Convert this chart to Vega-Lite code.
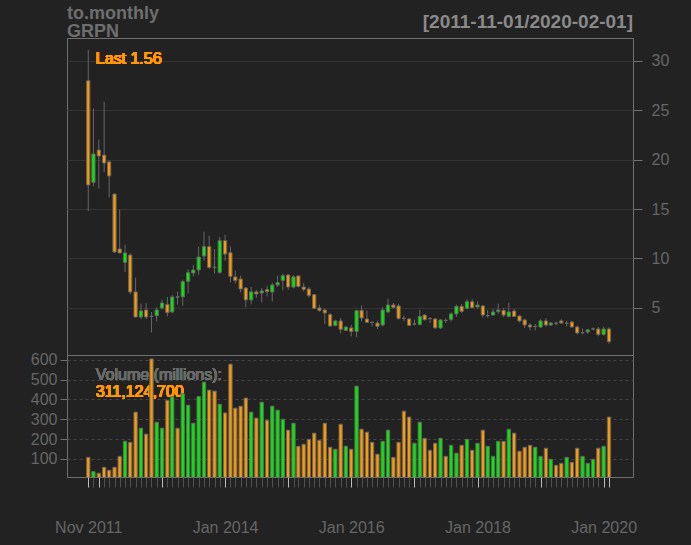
{
  "$schema": "https://vega.github.io/schema/vega-lite/v6.json",
  "autosize": "none",
  "padding": {"left": 67, "top": 38, "right": 624, "bottom": 507},
  "background": "#222222",
  "config": {
    "font": "Liberation Sans",
    "view": {"stroke": "#707070", "strokeWidth": 1},
    "axis": {"labelOverlap": false}
  },
  "title": {
    "text": ["to.monthly", "GRPN"],
    "anchor": "start",
    "frame": "group",
    "fontSize": 18,
    "fontWeight": "bold",
    "color": "#6e6e6e",
    "lineHeight": 18,
    "baseline": "alphabetic",
    "offset": 0,
    "dy": 42
  },
  "data": {
    "values": [
      {"date": "2011-11-01", "open": 28.0, "high": 31.14, "low": 14.8, "close": 17.44, "volume": 108},
      {"date": "2011-12-01", "open": 17.7, "high": 25.2, "low": 17.3, "close": 20.58, "volume": 36},
      {"date": "2012-01-01", "open": 20.98, "high": 22.03, "low": 17.1, "close": 20.37, "volume": 28},
      {"date": "2012-02-01", "open": 20.47, "high": 25.88, "low": 18.72, "close": 19.66, "volume": 58},
      {"date": "2012-03-01", "open": 19.77, "high": 19.93, "low": 16.18, "close": 18.35, "volume": 43},
      {"date": "2012-04-01", "open": 16.52, "high": 16.6, "low": 10.55, "close": 10.65, "volume": 58},
      {"date": "2012-05-01", "open": 10.95, "high": 14.93, "low": 10.5, "close": 10.55, "volume": 113},
      {"date": "2012-06-01", "open": 9.6, "high": 11.39, "low": 8.62, "close": 10.55, "volume": 189},
      {"date": "2012-07-01", "open": 10.34, "high": 10.5, "low": 6.39, "close": 6.6, "volume": 184},
      {"date": "2012-08-01", "open": 6.6, "high": 8.04, "low": 4.0, "close": 4.06, "volume": 336},
      {"date": "2012-09-01", "open": 4.06, "high": 5.41, "low": 3.86, "close": 4.67, "volume": 255},
      {"date": "2012-10-01", "open": 4.77, "high": 5.45, "low": 3.86, "close": 4.06, "volume": 225},
      {"date": "2012-11-01", "open": 4.14, "high": 4.57, "low": 2.5, "close": 4.1, "volume": 604},
      {"date": "2012-12-01", "open": 4.19, "high": 5.04, "low": 3.62, "close": 4.77, "volume": 285},
      {"date": "2013-01-01", "open": 4.97, "high": 5.82, "low": 4.8, "close": 5.48, "volume": 255},
      {"date": "2013-02-01", "open": 5.34, "high": 6.09, "low": 4.12, "close": 4.5, "volume": 396},
      {"date": "2013-03-01", "open": 4.57, "high": 6.32, "low": 4.47, "close": 6.09, "volume": 413},
      {"date": "2013-04-01", "open": 6.1, "high": 6.63, "low": 5.31, "close": 6.08, "volume": 255},
      {"date": "2013-05-01", "open": 6.1, "high": 7.84, "low": 5.21, "close": 7.64, "volume": 428},
      {"date": "2013-06-01", "open": 7.67, "high": 8.89, "low": 6.42, "close": 8.55, "volume": 371},
      {"date": "2013-07-01", "open": 8.52, "high": 9.33, "low": 8.18, "close": 8.82, "volume": 280},
      {"date": "2013-08-01", "open": 8.82, "high": 11.19, "low": 8.35, "close": 10.14, "volume": 415},
      {"date": "2013-09-01", "open": 10.24, "high": 12.7, "low": 9.77, "close": 11.19, "volume": 487},
      {"date": "2013-10-01", "open": 11.19, "high": 12.3, "low": 8.92, "close": 9.09, "volume": 447},
      {"date": "2013-11-01", "open": 9.1, "high": 10.95, "low": 8.45, "close": 9.08, "volume": 442},
      {"date": "2013-12-01", "open": 8.58, "high": 12.19, "low": 8.45, "close": 11.79, "volume": 376},
      {"date": "2014-01-01", "open": 11.79, "high": 12.4, "low": 9.77, "close": 10.44, "volume": 332},
      {"date": "2014-02-01", "open": 10.58, "high": 11.19, "low": 7.57, "close": 8.18, "volume": 578},
      {"date": "2014-03-01", "open": 8.12, "high": 8.75, "low": 7.44, "close": 7.77, "volume": 356},
      {"date": "2014-04-01", "open": 7.91, "high": 8.25, "low": 6.56, "close": 6.9, "volume": 366},
      {"date": "2014-05-01", "open": 7.0, "high": 7.1, "low": 5.04, "close": 5.79, "volume": 407},
      {"date": "2014-06-01", "open": 5.79, "high": 7.1, "low": 5.34, "close": 6.6, "volume": 336},
      {"date": "2014-07-01", "open": 6.6, "high": 6.8, "low": 6.0, "close": 6.39, "volume": 306},
      {"date": "2014-08-01", "open": 6.49, "high": 7.0, "low": 5.54, "close": 6.7, "volume": 386},
      {"date": "2014-09-01", "open": 6.83, "high": 7.23, "low": 6.15, "close": 6.63, "volume": 295},
      {"date": "2014-10-01", "open": 6.6, "high": 7.54, "low": 5.64, "close": 7.3, "volume": 366},
      {"date": "2014-11-01", "open": 7.3, "high": 8.25, "low": 7.1, "close": 7.54, "volume": 346},
      {"date": "2014-12-01", "open": 7.77, "high": 8.45, "low": 6.76, "close": 8.25, "volume": 300},
      {"date": "2015-01-01", "open": 8.32, "high": 8.39, "low": 6.8, "close": 7.1, "volume": 245},
      {"date": "2015-02-01", "open": 7.1, "high": 8.3, "low": 6.95, "close": 8.12, "volume": 280},
      {"date": "2015-03-01", "open": 8.22, "high": 8.24, "low": 7.05, "close": 7.16, "volume": 164},
      {"date": "2015-04-01", "open": 7.1, "high": 7.51, "low": 6.66, "close": 6.86, "volume": 174},
      {"date": "2015-05-01", "open": 6.9, "high": 7.1, "low": 6.06, "close": 6.25, "volume": 199},
      {"date": "2015-06-01", "open": 6.32, "high": 6.4, "low": 4.85, "close": 4.94, "volume": 230},
      {"date": "2015-07-01", "open": 4.97, "high": 5.3, "low": 4.6, "close": 4.73, "volume": 194},
      {"date": "2015-08-01", "open": 4.77, "high": 4.9, "low": 3.35, "close": 4.47, "volume": 280},
      {"date": "2015-09-01", "open": 4.3, "high": 4.45, "low": 3.05, "close": 3.15, "volume": 159},
      {"date": "2015-10-01", "open": 3.21, "high": 3.8, "low": 3.1, "close": 3.66, "volume": 149},
      {"date": "2015-11-01", "open": 3.66, "high": 3.96, "low": 2.4, "close": 2.81, "volume": 275},
      {"date": "2015-12-01", "open": 2.71, "high": 3.1, "low": 2.68, "close": 3.05, "volume": 164},
      {"date": "2016-01-01", "open": 2.95, "high": 3.28, "low": 2.1, "close": 2.6, "volume": 149},
      {"date": "2016-02-01", "open": 2.6, "high": 4.8, "low": 2.04, "close": 4.7, "volume": 467},
      {"date": "2016-03-01", "open": 4.73, "high": 5.24, "low": 3.62, "close": 3.96, "volume": 250},
      {"date": "2016-04-01", "open": 3.86, "high": 4.7, "low": 3.45, "close": 3.52, "volume": 235},
      {"date": "2016-05-01", "open": 3.53, "high": 3.6, "low": 3.1, "close": 3.51, "volume": 184},
      {"date": "2016-06-01", "open": 3.45, "high": 3.69, "low": 2.85, "close": 3.11, "volume": 124},
      {"date": "2016-07-01", "open": 3.25, "high": 5.04, "low": 3.11, "close": 4.77, "volume": 189},
      {"date": "2016-08-01", "open": 4.57, "high": 5.92, "low": 4.47, "close": 5.28, "volume": 245},
      {"date": "2016-09-01", "open": 5.28, "high": 5.48, "low": 4.9, "close": 5.04, "volume": 108},
      {"date": "2016-10-01", "open": 5.18, "high": 5.41, "low": 3.79, "close": 3.92, "volume": 184},
      {"date": "2016-11-01", "open": 3.93, "high": 4.2, "low": 3.6, "close": 3.92, "volume": 341},
      {"date": "2016-12-01", "open": 3.86, "high": 3.95, "low": 3.15, "close": 3.21, "volume": 311},
      {"date": "2017-01-01", "open": 3.34, "high": 3.8, "low": 3.2, "close": 3.36, "volume": 179},
      {"date": "2017-02-01", "open": 3.31, "high": 4.8, "low": 3.21, "close": 4.12, "volume": 285},
      {"date": "2017-03-01", "open": 4.26, "high": 4.35, "low": 3.7, "close": 3.79, "volume": 204},
      {"date": "2017-04-01", "open": 3.9, "high": 4.05, "low": 3.45, "close": 3.88, "volume": 144},
      {"date": "2017-05-01", "open": 3.86, "high": 3.95, "low": 2.9, "close": 2.95, "volume": 179},
      {"date": "2017-06-01", "open": 2.95, "high": 3.85, "low": 2.85, "close": 3.76, "volume": 204},
      {"date": "2017-07-01", "open": 3.73, "high": 3.92, "low": 3.45, "close": 3.71, "volume": 113},
      {"date": "2017-08-01", "open": 3.82, "high": 4.53, "low": 3.59, "close": 4.37, "volume": 169},
      {"date": "2017-09-01", "open": 4.37, "high": 5.31, "low": 4.07, "close": 5.14, "volume": 129},
      {"date": "2017-10-01", "open": 5.14, "high": 5.38, "low": 4.47, "close": 4.63, "volume": 169},
      {"date": "2017-11-01", "open": 4.94, "high": 5.88, "low": 4.83, "close": 5.61, "volume": 199},
      {"date": "2017-12-01", "open": 5.61, "high": 5.85, "low": 4.95, "close": 5.0, "volume": 144},
      {"date": "2018-01-01", "open": 5.08, "high": 5.65, "low": 4.94, "close": 5.28, "volume": 179},
      {"date": "2018-02-01", "open": 5.18, "high": 5.25, "low": 4.0, "close": 4.26, "volume": 245},
      {"date": "2018-03-01", "open": 4.18, "high": 4.78, "low": 4.0, "close": 4.2, "volume": 164},
      {"date": "2018-04-01", "open": 4.26, "high": 4.87, "low": 4.19, "close": 4.57, "volume": 113},
      {"date": "2018-05-01", "open": 4.6, "high": 5.41, "low": 4.4, "close": 4.77, "volume": 189},
      {"date": "2018-06-01", "open": 4.73, "high": 4.97, "low": 4.06, "close": 4.26, "volume": 189},
      {"date": "2018-07-01", "open": 4.12, "high": 5.51, "low": 4.02, "close": 4.57, "volume": 250},
      {"date": "2018-08-01", "open": 4.67, "high": 4.87, "low": 4.06, "close": 4.12, "volume": 230},
      {"date": "2018-09-01", "open": 4.16, "high": 4.23, "low": 3.52, "close": 3.66, "volume": 139},
      {"date": "2018-10-01", "open": 3.76, "high": 3.9, "low": 2.95, "close": 3.25, "volume": 159},
      {"date": "2018-11-01", "open": 3.25, "high": 3.42, "low": 2.71, "close": 3.05, "volume": 169},
      {"date": "2018-12-01", "open": 3.1, "high": 3.35, "low": 2.71, "close": 3.12, "volume": 159},
      {"date": "2019-01-01", "open": 3.05, "high": 3.82, "low": 2.95, "close": 3.66, "volume": 113},
      {"date": "2019-02-01", "open": 3.66, "high": 3.96, "low": 3.08, "close": 3.25, "volume": 154},
      {"date": "2019-03-01", "open": 3.25, "high": 3.55, "low": 3.15, "close": 3.45, "volume": 98},
      {"date": "2019-04-01", "open": 3.43, "high": 3.62, "low": 3.2, "close": 3.41, "volume": 68},
      {"date": "2019-05-01", "open": 3.66, "high": 3.82, "low": 3.35, "close": 3.45, "volume": 78},
      {"date": "2019-06-01", "open": 3.41, "high": 3.69, "low": 3.1, "close": 3.43, "volume": 108},
      {"date": "2019-07-01", "open": 3.56, "high": 3.66, "low": 2.95, "close": 3.05, "volume": 83},
      {"date": "2019-08-01", "open": 3.05, "high": 3.2, "low": 2.3, "close": 2.44, "volume": 154},
      {"date": "2019-09-01", "open": 2.46, "high": 2.9, "low": 2.3, "close": 2.48, "volume": 113},
      {"date": "2019-10-01", "open": 2.54, "high": 2.85, "low": 2.37, "close": 2.75, "volume": 78},
      {"date": "2019-11-01", "open": 2.84, "high": 3.0, "low": 2.7, "close": 2.86, "volume": 98},
      {"date": "2019-12-01", "open": 2.85, "high": 3.05, "low": 2.1, "close": 2.3, "volume": 154},
      {"date": "2020-01-01", "open": 2.3, "high": 3.08, "low": 2.17, "close": 2.85, "volume": 164},
      {"date": "2020-02-01", "open": 2.85, "high": 3.01, "low": 1.36, "close": 1.56, "volume": 311.1247}
    ],
    "format": {"parse": {"date": "utc:'%Y-%m-%d'"}}
  },
  "spacing": 0,
  "bounds": "flush",
  "vconcat": [
    {
      "width": 566,
      "height": 317,
      "title": {
        "text": "[2011-11-01/2020-02-01]",
        "anchor": "end",
        "frame": "group",
        "fontSize": 19,
        "fontWeight": "bold",
        "color": "#8a8a8a",
        "baseline": "alphabetic",
        "offset": 11,
        "dy": 20
      },
      "encoding": {
        "x": {
          "field": "date",
          "type": "temporal",
          "scale": {"type": "utc", "padding": 0, "domain": [{"year": 2011, "month": 7, "date": 1, "utc": true}, {"year": 2020, "month": 6, "date": 19, "utc": true}]},
          "axis": null
        }
      },
      "layer": [
        {
          "mark": {"type": "text", "align": "left", "baseline": "alphabetic", "dx": 7.5, "fontSize": 16, "color": "#ff9900"},
          "encoding": {
            "x": {"datum": {"year": 2011, "month": 11, "date": 1, "utc": true}, "type": "temporal"},
            "y": {"datum": 29.68, "type": "quantitative"},
            "text": {"value": "Last 1.56"}
          }
        },
        {
          "mark": {"type": "rule", "color": "#666666", "strokeWidth": 1},
          "encoding": {
            "y": {
              "field": "low",
              "type": "quantitative",
              "scale": {"domain": [0.21, 32.33], "zero": false, "nice": false},
              "axis": {
                "orient": "right",
                "values": [5, 10, 15, 20, 25, 30],
                "tickCount": 20,
                "title": null,
                "grid": true,
                "gridColor": "#333333",
                "domain": false,
                "tickColor": "#707070",
                "tickSize": 9,
                "labelPadding": 9,
                "labelColor": "#666666",
                "labelFontSize": 16,
                "labelFont": "Liberation Sans"
              }
            },
            "y2": {"field": "high"}
          }
        },
        {
          "mark": {"type": "bar", "size": 3.2, "stroke": "#666666", "strokeWidth": 1},
          "encoding": {
            "y": {"field": "open", "type": "quantitative"},
            "y2": {"field": "close"},
            "fill": {"condition": {"test": "datum.close > datum.open", "value": "#00ee00"}, "value": "#ff9900"}
          }
        }
      ]
    },
    {
      "width": 566,
      "height": 122,
      "resolve": {"scale": {"x": "shared"}, "axis": {"x": "independent"}},
      "layer": [
        {
          "mark": {"type": "text", "align": "left", "baseline": "alphabetic", "dx": 7.5, "fontSize": 16, "color": "#6a6a6a"},
          "encoding": {
            "x": {
              "datum": {"year": 2011, "month": 11, "date": 1, "utc": true},
              "type": "temporal",
              "scale": {"type": "utc", "padding": 0, "domain": [{"year": 2011, "month": 7, "date": 1, "utc": true}, {"year": 2020, "month": 6, "date": 19, "utc": true}]},
              "axis": {
                "orient": "bottom",
                "tickCount": 200,
                "values": [
                  {"year": 2011, "month": 11, "date": 1, "utc": true},
                  {"year": 2011, "month": 12, "date": 1, "utc": true},
                  {"year": 2012, "month": 1, "date": 1, "utc": true}, {"year": 2012, "month": 2, "date": 1, "utc": true}, {"year": 2012, "month": 3, "date": 1, "utc": true}, {"year": 2012, "month": 4, "date": 1, "utc": true}, {"year": 2012, "month": 5, "date": 1, "utc": true}, {"year": 2012, "month": 6, "date": 1, "utc": true}, {"year": 2012, "month": 7, "date": 1, "utc": true}, {"year": 2012, "month": 8, "date": 1, "utc": true}, {"year": 2012, "month": 9, "date": 1, "utc": true}, {"year": 2012, "month": 10, "date": 1, "utc": true}, {"year": 2012, "month": 11, "date": 1, "utc": true}, {"year": 2012, "month": 12, "date": 1, "utc": true},
                  {"year": 2013, "month": 1, "date": 1, "utc": true}, {"year": 2013, "month": 2, "date": 1, "utc": true}, {"year": 2013, "month": 3, "date": 1, "utc": true}, {"year": 2013, "month": 4, "date": 1, "utc": true}, {"year": 2013, "month": 5, "date": 1, "utc": true}, {"year": 2013, "month": 6, "date": 1, "utc": true}, {"year": 2013, "month": 7, "date": 1, "utc": true}, {"year": 2013, "month": 8, "date": 1, "utc": true}, {"year": 2013, "month": 9, "date": 1, "utc": true}, {"year": 2013, "month": 10, "date": 1, "utc": true}, {"year": 2013, "month": 11, "date": 1, "utc": true}, {"year": 2013, "month": 12, "date": 1, "utc": true},
                  {"year": 2014, "month": 1, "date": 1, "utc": true}, {"year": 2014, "month": 2, "date": 1, "utc": true}, {"year": 2014, "month": 3, "date": 1, "utc": true}, {"year": 2014, "month": 4, "date": 1, "utc": true}, {"year": 2014, "month": 5, "date": 1, "utc": true}, {"year": 2014, "month": 6, "date": 1, "utc": true}, {"year": 2014, "month": 7, "date": 1, "utc": true}, {"year": 2014, "month": 8, "date": 1, "utc": true}, {"year": 2014, "month": 9, "date": 1, "utc": true}, {"year": 2014, "month": 10, "date": 1, "utc": true}, {"year": 2014, "month": 11, "date": 1, "utc": true}, {"year": 2014, "month": 12, "date": 1, "utc": true},
                  {"year": 2015, "month": 1, "date": 1, "utc": true}, {"year": 2015, "month": 2, "date": 1, "utc": true}, {"year": 2015, "month": 3, "date": 1, "utc": true}, {"year": 2015, "month": 4, "date": 1, "utc": true}, {"year": 2015, "month": 5, "date": 1, "utc": true}, {"year": 2015, "month": 6, "date": 1, "utc": true}, {"year": 2015, "month": 7, "date": 1, "utc": true}, {"year": 2015, "month": 8, "date": 1, "utc": true}, {"year": 2015, "month": 9, "date": 1, "utc": true}, {"year": 2015, "month": 10, "date": 1, "utc": true}, {"year": 2015, "month": 11, "date": 1, "utc": true}, {"year": 2015, "month": 12, "date": 1, "utc": true},
                  {"year": 2016, "month": 1, "date": 1, "utc": true}, {"year": 2016, "month": 2, "date": 1, "utc": true}, {"year": 2016, "month": 3, "date": 1, "utc": true}, {"year": 2016, "month": 4, "date": 1, "utc": true}, {"year": 2016, "month": 5, "date": 1, "utc": true}, {"year": 2016, "month": 6, "date": 1, "utc": true}, {"year": 2016, "month": 7, "date": 1, "utc": true}, {"year": 2016, "month": 8, "date": 1, "utc": true}, {"year": 2016, "month": 9, "date": 1, "utc": true}, {"year": 2016, "month": 10, "date": 1, "utc": true}, {"year": 2016, "month": 11, "date": 1, "utc": true}, {"year": 2016, "month": 12, "date": 1, "utc": true},
                  {"year": 2017, "month": 1, "date": 1, "utc": true}, {"year": 2017, "month": 2, "date": 1, "utc": true}, {"year": 2017, "month": 3, "date": 1, "utc": true}, {"year": 2017, "month": 4, "date": 1, "utc": true}, {"year": 2017, "month": 5, "date": 1, "utc": true}, {"year": 2017, "month": 6, "date": 1, "utc": true}, {"year": 2017, "month": 7, "date": 1, "utc": true}, {"year": 2017, "month": 8, "date": 1, "utc": true}, {"year": 2017, "month": 9, "date": 1, "utc": true}, {"year": 2017, "month": 10, "date": 1, "utc": true}, {"year": 2017, "month": 11, "date": 1, "utc": true}, {"year": 2017, "month": 12, "date": 1, "utc": true},
                  {"year": 2018, "month": 1, "date": 1, "utc": true}, {"year": 2018, "month": 2, "date": 1, "utc": true}, {"year": 2018, "month": 3, "date": 1, "utc": true}, {"year": 2018, "month": 4, "date": 1, "utc": true}, {"year": 2018, "month": 5, "date": 1, "utc": true}, {"year": 2018, "month": 6, "date": 1, "utc": true}, {"year": 2018, "month": 7, "date": 1, "utc": true}, {"year": 2018, "month": 8, "date": 1, "utc": true}, {"year": 2018, "month": 9, "date": 1, "utc": true}, {"year": 2018, "month": 10, "date": 1, "utc": true}, {"year": 2018, "month": 11, "date": 1, "utc": true}, {"year": 2018, "month": 12, "date": 1, "utc": true},
                  {"year": 2019, "month": 1, "date": 1, "utc": true}, {"year": 2019, "month": 2, "date": 1, "utc": true}, {"year": 2019, "month": 3, "date": 1, "utc": true}, {"year": 2019, "month": 4, "date": 1, "utc": true}, {"year": 2019, "month": 5, "date": 1, "utc": true}, {"year": 2019, "month": 6, "date": 1, "utc": true}, {"year": 2019, "month": 7, "date": 1, "utc": true}, {"year": 2019, "month": 8, "date": 1, "utc": true}, {"year": 2019, "month": 9, "date": 1, "utc": true}, {"year": 2019, "month": 10, "date": 1, "utc": true}, {"year": 2019, "month": 11, "date": 1, "utc": true}, {"year": 2019, "month": 12, "date": 1, "utc": true},
                  {"year": 2020, "month": 1, "date": 1, "utc": true}, {"year": 2020, "month": 2, "date": 1, "utc": true}
                ],
                "labels": false,
                "domain": false,
                "grid": false,
                "title": null,
                "tickColor": "#505050",
                "tickSize": 10
              }
            },
            "y": {
              "datum": 495.5,
              "type": "quantitative",
              "scale": {"domain": [9, 624], "zero": false, "nice": false},
              "axis": {
                "values": [100, 200, 300, 400, 500, 600],
                "tickCount": 20,
                "title": null,
                "grid": true,
                "gridColor": "#444444",
                "gridDash": [3, 3],
                "domain": false,
                "tickColor": "#707070",
                "tickSize": 7,
                "labelPadding": 3,
                "labelOverlap": false,
                "labelColor": "#666666",
                "labelFontSize": 16,
                "labelFont": "Liberation Sans"
              }
            },
            "text": {"value": "Volume (millions):"}
          }
        },
        {
          "mark": {"type": "text", "align": "left", "baseline": "alphabetic", "dx": 7.5, "fontSize": 16, "color": "#ff9900"},
          "encoding": {
            "x": {"datum": {"year": 2011, "month": 11, "date": 1, "utc": true}, "type": "temporal", "axis": null},
            "y": {"datum": 413, "type": "quantitative"},
            "text": {"value": "311,124,700"}
          }
        },
        {
          "mark": {"type": "bar", "size": 3.3, "stroke": "#666666", "strokeWidth": 1, "clip": true},
          "encoding": {
            "x": {
              "field": "date",
              "type": "temporal",
              "axis": {
                "orient": "bottom",
                "tickCount": 50,
                "values": [
                  {"year": 2011, "month": 11, "date": 1, "utc": true},
                  {"year": 2012, "month": 1, "date": 1, "utc": true},
                  {"year": 2013, "month": 1, "date": 1, "utc": true},
                  {"year": 2014, "month": 1, "date": 1, "utc": true},
                  {"year": 2015, "month": 1, "date": 1, "utc": true},
                  {"year": 2016, "month": 1, "date": 1, "utc": true},
                  {"year": 2017, "month": 1, "date": 1, "utc": true},
                  {"year": 2018, "month": 1, "date": 1, "utc": true},
                  {"year": 2019, "month": 1, "date": 1, "utc": true},
                  {"year": 2020, "month": 1, "date": 1, "utc": true},
                  {"year": 2020, "month": 2, "date": 1, "utc": true}
                ],
                "labelExpr": "indexof(['Nov 2011','Jan 2014','Jan 2016','Jan 2018','Jan 2020'], utcFormat(datum.value, '%b %Y')) >= 0 ? utcFormat(datum.value, '%b %Y') : ''",
                "labelOverlap": false,
                "labelFlush": false,
                "labelColor": "#666666",
                "labelFontSize": 16,
                "labelFont": "Liberation Sans",
                "labelPadding": 32,
                "domain": false,
                "grid": false,
                "title": null,
                "tickColor": "#bbbbbb",
                "tickSize": 10
              }
            },
            "y": {"field": "volume", "type": "quantitative"},
            "fill": {"condition": {"test": "datum.close > datum.open", "value": "#00ee00"}, "value": "#ff9900"}
          }
        }
      ]
    }
  ]
}
